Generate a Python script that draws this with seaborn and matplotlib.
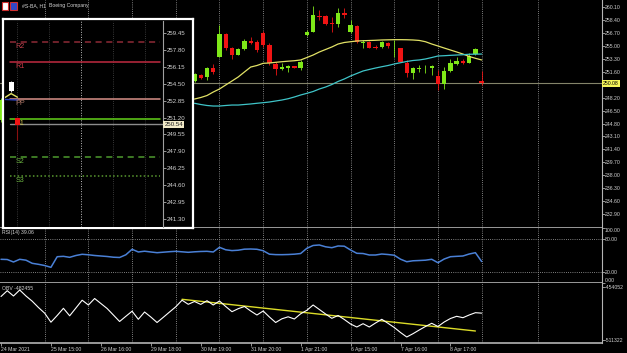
import numpy as np
import pandas as pd
import matplotlib
matplotlib.use("Agg")
import matplotlib.pyplot as plt
from matplotlib.patches import Rectangle
import seaborn as sns

# ---- H1 candles of #S-BA (bar 0 peeks out left of the pivot box, 1-30 sit under it)
bars = [0] + list(range(31, 78))
opens = [245.30,
         250.40, 251.15, 250.97, 252.15, 253.60, 256.55, 254.78, 253.82, 254.57, 255.71,
         255.57, 256.76, 255.14, 252.64, 251.98, 252.11, 252.34, 252.07, 256.46, 256.89,
         259.00, 258.96, 258.07, 257.90, 259.39, 256.89, 257.64, 255.45, 255.49, 254.92,
         254.92, 255.44, 254.71, 254.71, 252.81, 251.49, 251.98, 252.07, 252.07, 251.06,
         250.01, 251.72, 252.64, 253.03, 252.81, 253.96, 250.40]
highs = [248.10,
         251.46, 251.32, 252.28, 252.64, 257.77, 256.68, 254.92, 254.74, 255.89, 256.15,
         255.80, 256.98, 255.36, 252.94, 252.73, 252.51, 252.44, 253.17, 257.11, 260.27,
         259.74, 259.09, 258.86, 259.97, 259.97, 258.43, 257.77, 255.80, 255.67, 255.14,
         255.67, 255.57, 255.80, 254.81, 253.17, 252.28, 252.51, 252.51, 252.51, 251.85,
         252.28, 253.26, 253.60, 253.26, 254.05, 254.71, 251.72]
lows = [245.00,
        250.27, 250.70, 250.53, 251.32, 253.56, 254.48, 253.26, 253.76, 254.48, 255.27,
        254.26, 254.92, 252.51, 251.19, 251.85, 251.63, 252.05, 251.85, 256.32, 256.89,
        258.43, 257.77, 256.89, 257.55, 258.65, 256.68, 255.36, 254.74, 254.68, 254.61,
        254.81, 254.71, 253.60, 252.90, 250.89, 250.67, 251.63, 251.41, 251.19, 249.22,
        249.31, 251.63, 252.51, 252.64, 252.73, 253.82, 249.88]
closes = [247.90,
          251.32, 250.84, 252.15, 251.63, 256.55, 254.78, 253.82, 254.57, 255.67, 255.44,
          254.48, 255.14, 252.81, 251.98, 252.28, 252.38, 252.15, 252.94, 256.89, 259.09,
          258.86, 257.90, 257.90, 259.31, 259.13, 257.77, 255.57, 255.50, 254.78, 254.71,
          255.57, 255.05, 254.75, 252.94, 251.49, 252.07, 252.15, 252.10, 252.38, 250.01,
          251.68, 252.73, 253.03, 252.81, 253.69, 254.65, 250.10]

# moving averages (visible part, bars 31-77)
ma_bars = list(range(31, 78))
ma_yellow = [248.03, 248.23, 248.49, 248.95, 249.35, 249.88, 250.40, 250.93, 251.59, 252.24,
             252.44, 252.73, 252.77, 252.86, 252.94, 253.01, 253.07, 253.17, 253.49, 253.82,
             254.22, 254.55, 254.88, 255.27, 255.47, 255.57, 255.67, 255.70, 255.73, 255.76,
             255.80, 255.82, 255.84, 255.84, 255.83, 255.80, 255.74, 255.57, 255.27, 255.01,
             254.74, 254.48, 254.22, 253.95, 253.63, 253.39, 253.17]
ma_cyan = [247.47, 247.31, 247.18, 247.11, 247.11, 247.18, 247.24, 247.24, 247.31, 247.38,
           247.47, 247.55, 247.64, 247.77, 247.90, 248.07, 248.30, 248.56, 248.78, 249.02,
           249.35, 249.61, 249.94, 250.34, 250.67, 251.06, 251.39, 251.72, 251.92, 252.11,
           252.28, 252.44, 252.64, 252.81, 252.97, 253.10, 253.17, 253.30, 253.49, 253.69,
           253.73, 253.78, 253.82, 253.86, 253.92, 253.93, 253.95]
bid_main = 250.08

# RSI(14) and OBV, bars 0-77
rsi = [43.1, 42.7, 38.2, 43.1, 41.5, 35.8, 34.0, 31.8, 28.5, 47.8,
       48.5, 46.7, 50.0, 52.2, 51.3, 50.0, 49.1, 48.2, 46.9, 46.4,
       51.3, 61.3, 56.4, 57.8, 56.4, 55.1, 56.0, 56.9, 57.6, 56.7,
       55.8, 56.7, 57.3, 57.6, 56.4, 64.9, 60.4, 58.9, 59.6, 61.5,
       61.8, 61.3, 58.7, 52.4, 51.6, 51.5, 51.8, 52.4, 53.6, 63.1,
       68.2, 69.1, 65.8, 64.2, 67.3, 66.9, 60.0, 54.0, 53.6, 50.9,
       50.9, 52.7, 51.8, 50.5, 43.3, 38.7, 40.4, 40.9, 41.5, 43.1,
       36.9, 43.6, 47.8, 48.5, 49.1, 52.7, 55.1, 39.06]
obv = [-464582, -458350, -464045, -457598, -464045, -469632, -476402, -482526, -492197, -484998,
       -477261, -485320, -476939, -468558, -473715, -466731, -472104, -477476, -484460, -491445,
       -485857, -480377, -489081, -481237, -486609, -492519, -486932, -481237, -475649, -468558,
       -472963, -469955, -473071, -469095, -473715, -469417, -475327, -480915, -477691, -475327,
       -480162, -484460, -480162, -486609, -492519, -488543, -486394, -488758, -483171, -479410,
       -473715, -478551, -483386, -488006, -484998, -489296, -494131, -497354, -493809, -497354,
       -493056, -489081, -493379, -497892, -503264, -508099, -504554, -500578, -496817, -493379,
       -496817, -491982, -488221, -485857, -487362, -484460, -481989, -482455]
obv_trend_bars = [29, 76]
obv_trend = [-467591, -501652]

# axis texts
main_ticks = [260.10, 258.40, 256.70, 255.00, 253.30, 251.60, 248.20, 246.50,
              244.80, 243.10, 241.40, 239.70, 238.00, 236.30, 234.60, 232.90]
rsi_ticks = [0, 20, 80, 100]
obv_ticks = [-511322, -454052]
grid_bars = [7, 14, 21, 28, 35, 42, 49, 56, 63, 70, 77, 86]
date_bars = [0, 8, 16, 24, 32, 40, 48, 56, 64, 72]
date_labels = ["24 Mar 2021", "25 Mar 15:00", "26 Mar 16:00", "29 Mar 18:00", "30 Mar 19:00",
               "31 Mar 20:00", "1 Apr 21:00", "6 Apr 15:00", "7 Apr 16:00", "8 Apr 17:00"]

# pivot window (second chart laid over the left part)
pivot_names = ["R2", "R1", "PP", "S1", "S2", "S3"]
pivot_levels = [258.58, 256.69, 252.98, 251.09, 247.38, 245.49]
pivot_ticks = [259.45, 257.80, 256.15, 254.50, 252.85, 251.20, 249.55,
               247.90, 246.25, 244.60, 242.95, 241.30]
inset_bars = [76, 77]
inset_open = [253.79, 251.13]
inset_high = [254.75, 251.25]
inset_low = [253.70, 249.02]
inset_close = [254.70, 250.48]
inset_ma_bars = [75, 76, 77]
inset_yellow = [253.15, 253.55, 253.20]
inset_cyan = [252.98, 252.95, 252.92]
bid_inset = 250.54

sns.set_style("dark", {"axes.facecolor": "black", "figure.facecolor": "black"})
plt.rcParams["font.family"] = ["Liberation Sans", "DejaVu Sans"]

TXT = "#d2d2d2"
SEP = "#b4b4b4"
GRID = "#a8a8a8"
GREEN = "#7fe818"
RED = "#f01414"
FS = 3.7

W, H = 627, 353
fig = plt.figure(figsize=(W / 100, H / 100), dpi=100, facecolor="black")


def panel(left, top, right, bottom, **kw):
    return fig.add_axes([left / W, 1 - bottom / H, (right - left) / W, (bottom - top) / H], **kw)


ax_main = panel(0, 0, 601.5, 227.7)
ax_rsi = panel(0, 227.7, 601.5, 283.3)
ax_obv = panel(0, 283.3, 601.5, 343.3)

for ax in (ax_main, ax_rsi, ax_obv):
    ax.set_facecolor("black")
    ax.grid(False)
    ax.set_xlim(-0.16, 96.2)
    ax.spines["top"].set_visible(False)
    ax.spines["left"].set_visible(False)
    ax.spines["right"].set_visible(True)
    ax.spines["bottom"].set_visible(True)
    ax.spines["right"].set_color(SEP)
    ax.spines["right"].set_linewidth(0.8)
    ax.spines["bottom"].set_color(SEP)
    ax.spines["bottom"].set_linewidth(1.2)
    ax.yaxis.tick_right()
    ax.tick_params(axis="y", direction="out", length=2, width=0.5, colors=TXT,
                   labelsize=FS, pad=0.6, left=False, right=True)
    ax.tick_params(axis="x", bottom=False, labelbottom=False)
    for b in grid_bars:
        ax.axvline(b, color=GRID, lw=0.6, ls=(0, (1, 1.6)), zorder=0)
    ax.set_xlabel("")
    ax.set_ylabel("")

# ---- main price panel
df = pd.DataFrame({"bar": bars, "open": opens, "high": highs, "low": lows, "close": closes})
colors = np.where(df["close"] >= df["open"], GREEN, RED)
ax_main.vlines(df["bar"], df["low"], df["high"], colors=colors, lw=0.6, zorder=2)
body = (df["close"] - df["open"]).abs().clip(lower=0.1)
ax_main.bar(df["bar"], body, bottom=df[["open", "close"]].min(axis=1), width=0.7,
            color=colors, linewidth=0, zorder=3)
sns.lineplot(x=ma_bars, y=ma_yellow, ax=ax_main, color="#e2e266", lw=0.9, zorder=4)
sns.lineplot(x=ma_bars, y=ma_cyan, ax=ax_main, color="#3fc4c8", lw=0.9, zorder=4)
ax_main.axhline(bid_main, color="#84846a", lw=0.8, zorder=1)
ax_main.set_ylim(231.10, 261.06)
ax_main.set_yticks(main_ticks)
ax_main.set_yticklabels([f"{t:.2f}" for t in main_ticks])
ax_main.annotate(f"{bid_main:.2f}", xy=(1, bid_main), xycoords=("axes fraction", "data"),
                 xytext=(1.2, 0), textcoords="offset points", va="center", ha="left",
                 fontsize=FS, color="black", annotation_clip=False,
                 bbox=dict(boxstyle="square,pad=0.15", fc="#f6f65a", ec="none"))

# ---- RSI panel
sns.lineplot(x=range(len(rsi)), y=rsi, ax=ax_rsi, color="#4a80d6", lw=1.1, zorder=3)
for lvl in (20, 80):
    ax_rsi.axhline(lvl, color=GRID, lw=0.6, ls=(0, (1, 1.6)), zorder=0)
ax_rsi.set_ylim(-0.5, 100.5)
ax_rsi.set_yticks(rsi_ticks)
ax_rsi.set_yticklabels([f"{t:.2f}" for t in rsi_ticks])
ax_rsi.get_yticklabels()[0].set_va("bottom")
ax_rsi.get_yticklabels()[-1].set_va("top")
ax_rsi.text(0.004, 0.905, f"RSI(14) {rsi[-1]:.2f}", transform=ax_rsi.transAxes,
            color=TXT, fontsize=FS, va="center", ha="left")

# ---- OBV panel
sns.lineplot(x=range(len(obv)), y=obv, ax=ax_obv, color="white", lw=0.8, zorder=3)
sns.lineplot(x=obv_trend_bars, y=obv_trend, ax=ax_obv, color="#dcdc28", lw=1.0, zorder=2)
ax_obv.set_ylim(-514869, -450399)
ax_obv.set_yticks(obv_ticks)
ax_obv.set_yticklabels([str(t) for t in obv_ticks])
ax_obv.text(0.004, 0.905, f"OBV {obv[-1]}", transform=ax_obv.transAxes,
            color=TXT, fontsize=FS, va="center", ha="left")
ax_obv.set_xticks(date_bars)
ax_obv.set_xticklabels(date_labels, ha="left")
ax_obv.tick_params(axis="x", bottom=True, labelbottom=True, direction="out", length=2,
                   width=0.5, colors=TXT, labelsize=FS, pad=0.8)
ax_obv.set_xlim(-0.16, 96.2)

# ---- pivot window with white frame
box = panel(3, 19, 193, 228, zorder=10)
box.set_facecolor("black")
box.set_xticks([])
box.set_yticks([])
for s in box.spines.values():
    s.set_visible(True)
    s.set_color("white")
    s.set_linewidth(1.6)

ins = panel(4.5, 20.5, 162.7, 226.5, zorder=11)
ins.set_facecolor("black")
ins.grid(False)
for s in ("top", "left", "bottom"):
    ins.spines[s].set_visible(False)
ins.spines["right"].set_visible(True)
ins.spines["right"].set_color("#a0a0a0")
ins.spines["right"].set_linewidth(0.8)
ins.set_xlim(74.97, 99.77)
ins.set_ylim(240.52, 260.72)
ins.set_xticks([])
ins.yaxis.tick_right()
ins.set_yticks(pivot_ticks)
ins.set_yticklabels([f"{t:.2f}" for t in pivot_ticks])
ins.tick_params(axis="y", direction="out", length=2, width=0.5, colors=TXT,
                labelsize=4.4, pad=0.6, left=False, right=True)
for b in (77, 82, 92, 97):
    ins.axvline(b, color="#4a4a4a", lw=0.6, ls=(0, (1, 1.6)), zorder=0)
ins.axvline(87, color="#bdbdbd", lw=0.7, ls=(0, (1, 1.6)), zorder=0)

line_cols = ["#8e2a36", "#c02a40", "#d89088", "#62d21a", "#4e9a2e", "#5a9a30"]
line_styles = [(0, (4, 3)), "-", "-", "-", (0, (4, 3)), (0, (1, 1.5))]
label_cols = ["#c0404c", "#c83844", "#b07868", "#c8c050", "#6ab040", "#6ab040"]
for name, lvl, lc, ls, tc in zip(pivot_names, pivot_levels, line_cols, line_styles, label_cols):
    ins.axhline(lvl, xmin=0.035, xmax=0.985, color=lc, ls=ls, lw=1.1, zorder=2)
    ins.text(77 - 0.3, lvl - 0.1, name, color=tc, fontsize=5.2, va="top", ha="left", zorder=5)

ins.axhline(bid_inset, xmin=0.035, xmax=1, color="#8c8c8c", lw=1.0, zorder=2)
ins.annotate(f"{bid_inset:.2f}", xy=(1, bid_inset), xycoords=("axes fraction", "data"),
             xytext=(1.2, 0), textcoords="offset points", va="center", ha="left",
             fontsize=4.4, color="#202020", annotation_clip=False,
             bbox=dict(boxstyle="square,pad=0.15", fc="#f2eac8", ec="none"))

sns.lineplot(x=inset_ma_bars, y=inset_yellow, ax=ins, color="#e2e266", lw=1.0, zorder=3)
sns.lineplot(x=inset_ma_bars, y=inset_cyan, ax=ins, color="#2a40c0", lw=1.0, zorder=3)
icol = np.where(np.array(inset_close) >= np.array(inset_open), "white", RED)
ins.vlines(inset_bars, inset_low, inset_high, colors=np.where(icol == "white", "#d0d0d0", "#8a1010"),
           lw=0.8, zorder=4)
ins.bar(inset_bars, np.abs(np.array(inset_close) - np.array(inset_open)),
        bottom=np.minimum(inset_open, inset_close), width=0.8, color=icol, linewidth=0, zorder=6)
ins.set_xlabel("")
ins.set_ylabel("")

# ---- header
fig.patches.append(Rectangle((2 / W, 1 - 9.5 / H), 6 / W, 7 / H, transform=fig.transFigure,
                             fc="white", ec="#d03030", lw=0.8))
fig.patches.append(Rectangle((10 / W, 1 - 9.5 / H), 7 / W, 7 / H, transform=fig.transFigure,
                             fc="#3048c8", ec="#d03030", lw=0.8))
fig.text(22 / W, 1 - 6 / H, "#S-BA, H1", color=TXT, fontsize=FS, va="center", ha="left")
fig.text(49 / W, 1 - 6 / H, "Boeing Company", color=TXT, fontsize=FS, va="center", ha="left")

fig.savefig("out.png", dpi=100, facecolor="black")
